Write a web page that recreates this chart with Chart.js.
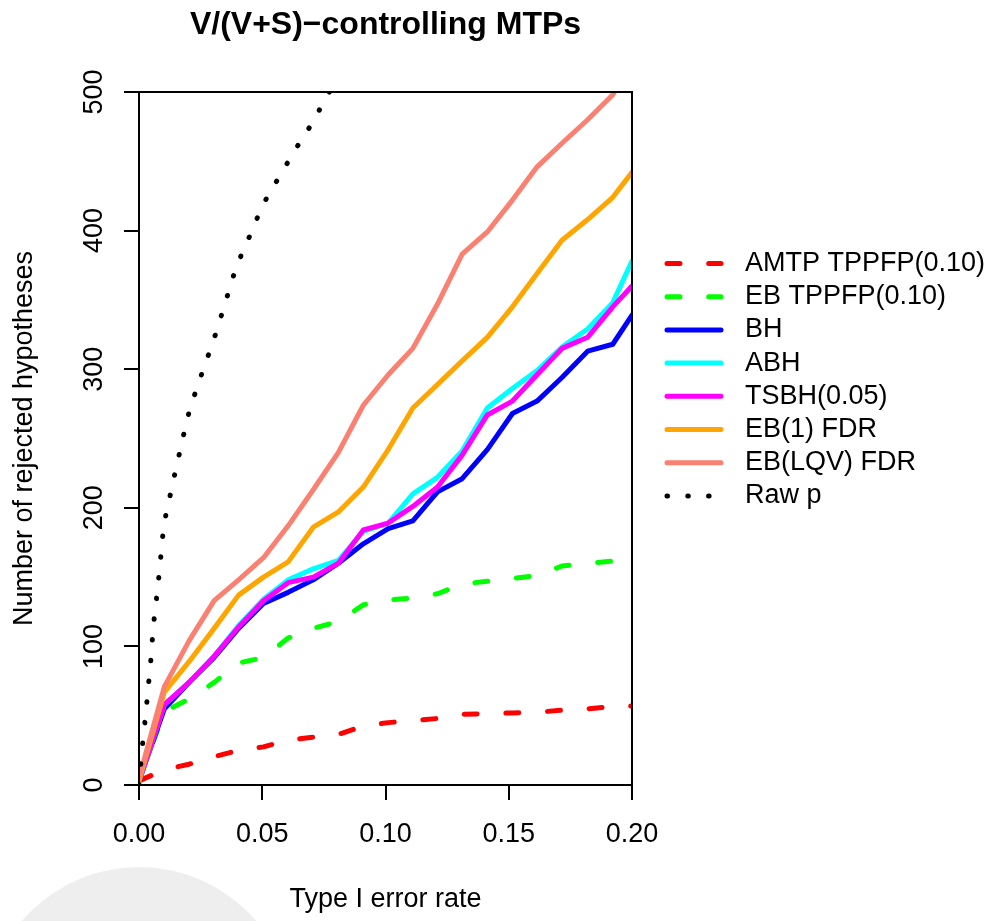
<!DOCTYPE html>
<html><head><meta charset="utf-8">
<script src="https://cdn.jsdelivr.net/npm/chart.js@4/dist/chart.umd.min.js"></script>
<style>html,body{margin:0;padding:0;background:#fff;}canvas{display:block;}</style>
</head><body>
<canvas id="c" width="993" height="921" style="width:993px;height:921px"></canvas>
<script>
// ---- data ----
const xValues = [0, 0.0103, 0.0203, 0.0305, 0.0404, 0.0505, 0.0605, 0.0707, 0.0809, 0.091, 0.1011, 0.1111, 0.1211, 0.1311, 0.1413, 0.1515, 0.1615, 0.1716, 0.182, 0.1922, 0.2];
const amtpTPPFP = [3, 11, 15, 20.5, 25, 27.5, 32.5, 34.5, 36.5, 42.5, 45, 46.5, 48, 51, 51.5, 52, 52.5, 54, 55, 56.5, 57];
const ebTPPFP   = [3, 53, 62, 74, 88, 92, 106, 113, 118, 130, 133.5, 135, 138, 145, 147, 149, 151, 158, 160, 161.5, 162];
const bh        = [3, 55, 74, 92, 113, 131, 139, 148, 160, 174, 185, 190.5, 211.5, 221, 242, 268, 277, 294, 313, 318, 339];
const abh       = [3, 58, 74, 93, 115, 134, 148, 156, 162, 183, 189, 210, 222, 241, 272, 286, 299, 316, 329, 348, 378];
const tsbh      = [3, 58, 74, 93, 114, 133, 146, 150, 160, 184, 189, 201, 215, 238, 267, 277, 296, 315, 323, 345, 360];
const eb1FDR    = [3, 67, 89, 113, 137, 150, 161, 186, 197, 215, 242, 272, 289, 306, 323, 345, 369, 393, 408, 424, 442];
const ebLQVFDR  = [5, 71, 104, 133, 148, 164, 187, 213, 240, 274, 296, 315, 347, 383, 399, 422, 446, 463, 480, 498, 520];
const rawPX = [0, 0.0008, 0.0016, 0.0025, 0.0033, 0.0041, 0.0049, 0.0055, 0.0062, 0.0072, 0.0081, 0.0089, 0.0097, 0.011, 0.0129, 0.0146, 0.0165, 0.0184, 0.0203, 0.023, 0.0257, 0.0285, 0.0312, 0.0338, 0.0362, 0.0386, 0.0414, 0.0449, 0.0484, 0.0519, 0.0563, 0.0606, 0.065, 0.0697, 0.0738, 0.08];
const rawPY = [0, 17, 32, 47, 62, 77, 92, 107, 121, 136, 151, 166, 181, 196, 211, 225, 240, 255, 269, 284, 298, 312, 326, 341, 355, 369, 382, 396, 411, 424, 437, 450, 463, 476, 489, 509];
const seriesLabels = ['AMTP TPPFP(0.10)', 'EB TPPFP(0.10)', 'BH', 'ABH', 'TSBH(0.05)', 'EB(1) FDR', 'EB(LQV) FDR', 'Raw p'];
const xTicks = [0, 0.05, 0.10, 0.15, 0.20];
const yTicks = [0, 100, 200, 300, 400, 500];
const titleText = 'V/(V+S)\u2212controlling MTPs';
const xTitle = 'Type I error rate';
const yTitle = 'Number of rejected hypotheses';

// ---- styling ----
const FONT = "'Liberation Sans', Arial, Helvetica, sans-serif";
const colors = ['#FF0000', '#00FF00', '#0000FF', '#00FFFF', '#FF00FF', '#FFA500', '#FA8072', '#000000'];
const dashA = [13, 28.7];
const dots = [0.5, 20.3];
const dashes = [dashA, dashA, [], [], [], [], [], dots];
const seriesValues = [amtpTPPFP, ebTPPFP, bh, abh, tsbh, eb1FDR, ebLQVFDR];

function toPoints(xs, ys) { return ys.map((y, i) => ({x: xs[i], y: y})); }

const datasets = seriesLabels.map((lab, i) => ({
  label: lab,
  data: i < 7 ? toPoints(xValues, seriesValues[i]) : toPoints(rawPX, rawPY),
  borderColor: colors[i],
  backgroundColor: colors[i],
  borderWidth: 5,
  borderDash: dashes[i],
  borderCapStyle: 'round',
  borderJoinStyle: 'round',
  pointRadius: 0,
  pointHoverRadius: 0,
  fill: false,
  tension: 0,
  clip: 0,
  order: -i
}));

const decor = {
  id: 'decor',
  beforeDraw(chart) {
    const ctx = chart.ctx;
    ctx.save();
    ctx.fillStyle = '#eeeeee';
    ctx.beginPath();
    ctx.arc(139, 1021, 154, 0, Math.PI * 2);
    ctx.fill();
    ctx.restore();
  },
  afterDatasetsDraw(chart) {
    const ctx = chart.ctx, a = chart.chartArea;
    ctx.save();
    ctx.strokeStyle = '#000';
    ctx.lineWidth = 2;
    ctx.strokeRect(a.left, a.top, a.right - a.left, a.bottom - a.top);
    ctx.restore();
  },
  afterDraw(chart) {
    const ctx = chart.ctx, a = chart.chartArea;
    ctx.save();
    // title
    ctx.fillStyle = '#000';
    ctx.font = 'bold 32px ' + FONT;
    ctx.textAlign = 'center';
    ctx.textBaseline = 'middle';
    ctx.fillText(titleText, (a.left + a.right) / 2, 25);
    // legend
    const x0 = 667, x1 = 721, tx = 745, y0 = 263.5, dy = 33.2;
    chart.data.datasets.forEach((ds, i) => {
      const y = y0 + i * dy;
      ctx.strokeStyle = ds.borderColor;
      ctx.lineWidth = 5;
      ctx.lineCap = 'round';
      ctx.setLineDash(ds.borderDash || []);
      ctx.beginPath();
      ctx.moveTo(x0, y);
      ctx.lineTo(x1, y);
      ctx.stroke();
      ctx.setLineDash([]);
      ctx.fillStyle = '#000';
      ctx.font = '27px ' + FONT;
      ctx.textAlign = 'left';
      ctx.textBaseline = 'middle';
      ctx.fillText(ds.label, tx, y);
    });
    ctx.restore();
  }
};

new Chart(document.getElementById('c'), {
  type: 'line',
  data: { datasets: datasets },
  plugins: [decor],
  options: {
    responsive: false,
    animation: false,
    devicePixelRatio: 1,
    layout: { padding: { left: 0, top: 92, right: 361, bottom: 0 } },
    plugins: { legend: { display: false }, tooltip: { enabled: false }, title: { display: false } },
    scales: {
      x: {
        type: 'linear', min: 0, max: 0.2,
        afterBuildTicks: s => { s.ticks = xTicks.map(v => ({value: v})); },
        afterFit: s => { s.height = 136; s.paddingLeft = 0; s.paddingRight = 0; },
        ticks: { color: '#000', font: { family: FONT, size: 27 }, padding: 18, maxRotation: 0, minRotation: 0,
                 callback: v => Number(v).toFixed(2) },
        grid: { drawOnChartArea: false, drawTicks: true, tickLength: 15, color: '#000', lineWidth: 2 },
        border: { display: true, color: '#000', width: 2 },
        title: { display: true, text: xTitle, color: '#000', font: { family: FONT, size: 27 }, padding: { top: 0, bottom: 5 } }
      },
      y: {
        type: 'linear', min: 0, max: 500,
        afterBuildTicks: s => { s.ticks = yTicks.map(v => ({value: v})); },
        afterFit: s => { s.width = 139; s.paddingTop = 0; s.paddingBottom = 0; },
        ticks: { color: '#000', font: { family: FONT, size: 27 }, padding: 6.5, minRotation: 90, maxRotation: 90,
                 crossAlign: 'center', callback: v => String(v) },
        grid: { drawOnChartArea: false, drawTicks: true, tickLength: 15, color: '#000', lineWidth: 2 },
        border: { display: true, color: '#000', width: 2 },
        title: { display: true, text: yTitle, color: '#000', font: { family: FONT, size: 27 }, padding: { top: 8.8, bottom: 0 } }
      }
    }
  }
});
</script>
</body></html>
